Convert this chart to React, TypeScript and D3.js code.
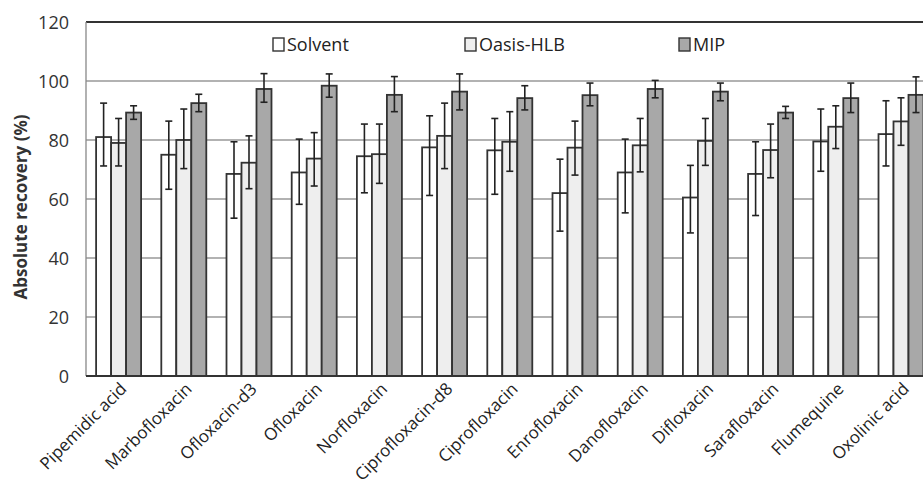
import * as d3 from "d3";

const WIDTH = 923;
const HEIGHT = 495;
const MARGIN = { top: 22, left: 86, bottom: 376 };
const STEP = 65.2;

const compounds = [
  "Pipemidic acid", "Marbofloxacin", "Ofloxacin-d3", "Ofloxacin", "Norfloxacin",
  "Ciprofloxacin-d8", "Ciprofloxacin", "Enrofloxacin", "Danofloxacin", "Difloxacin",
  "Sarafloxacin", "Flumequine", "Oxolinic acid",
];
const seriesNames = ["Solvent", "Oasis-HLB", "MIP"];

const solvent = [81, 75, 68.5, 69, 74.5, 77.5, 76.5, 62, 69, 60.5, 68.5, 79.5, 82];
const solventHi = [92.5, 86.4, 79.4, 80.3, 85.4, 88.2, 87.3, 73.5, 80.3, 71.4, 79.4, 90.5, 93.3];
const solventLo = [71.2, 63.3, 53.5, 58.2, 62.1, 61.2, 61.6, 49.1, 55.3, 48.5, 54.4, 69.4, 71.2];

const oasis = [79, 80, 72.3, 73.7, 75.2, 81.4, 79.4, 77.4, 78.2, 79.7, 76.6, 84.5, 86.3];
const oasisHi = [87.3, 90.5, 81.4, 82.5, 85.4, 92.5, 89.6, 86.4, 87.3, 87.3, 85.4, 91.6, 94.3];
const oasisLo = [71.2, 70.3, 63.5, 64.4, 65.3, 70.3, 69.4, 68.1, 69.2, 71.4, 67.2, 77.1, 78.2];

const mip = [89.3, 92.5, 97.3, 98.4, 95.3, 96.4, 94.2, 95.2, 97.3, 96.4, 89.3, 94.2, 95.3];
const mipHi = [91.6, 95.5, 102.5, 102.4, 101.5, 102.4, 98.4, 99.3, 100.2, 99.3, 91.4, 99.3, 101.4];
const mipLo = [87, 89.6, 92.8, 94.5, 89.6, 90.2, 90.2, 91.6, 94.3, 93.3, 87.3, 89.3, 89.3];

const yTicks = [0, 20, 40, 60, 80, 100, 120];
const fills = ["#ffffff", "#eeeeee", "#a8a8a8"];
const FONT = "'Open Sans', sans-serif";

const App = () => {
  const values = [solvent, oasis, mip];
  const his = [solventHi, oasisHi, mipHi];
  const los = [solventLo, oasisLo, mipLo];

  const x = d3
    .scaleBand()
    .domain(compounds)
    .range([MARGIN.left, MARGIN.left + STEP * compounds.length])
    .paddingInner(0.31)
    .paddingOuter(0.155);
  const xs = d3.scaleBand().domain(seriesNames).range([0, x.bandwidth()]);
  const y = d3.scaleLinear().domain([0, 120]).range([MARGIN.bottom, MARGIN.top]);

  const legendX = [273, 465, 679];

  return (
    <div style={{ position: "absolute", left: 0, top: 0 }}>
      <svg width={WIDTH} height={HEIGHT} style={{ display: "block", fontFamily: FONT }}>
        <rect width={WIDTH} height={HEIGHT} fill="#fff" />
        {/* grid */}
        {yTicks.slice(1, -1).map((t) => (
          <line key={t} x1={MARGIN.left} x2={WIDTH} y1={y(t)} y2={y(t)} stroke="#999" strokeWidth={1.3} />
        ))}
        <line x1={MARGIN.left} x2={WIDTH} y1={y(120)} y2={y(120)} stroke="#333" strokeWidth={1.8} />
        <line x1={MARGIN.left} x2={MARGIN.left} y1={y(120)} y2={y(0)} stroke="#888" strokeWidth={1.3} />
        {yTicks.map((t) => (
          <text key={t} x={69} y={y(t) + 6.5} textAnchor="end" fontSize={18} fill="#333">{t}</text>
        ))}
        <text
          transform={`translate(27,${(y(0) + y(120)) / 2 + 8}) rotate(-90)`}
          textAnchor="middle"
          fontSize={17}
          fontWeight="bold"
          fill="#333"
        >
          Absolute recovery (%)
        </text>

        {/* bars */}
        {compounds.map((c, i) => (
          <g key={c} transform={`translate(${x(c)},0)`}>
            {seriesNames.map((s, k) => (
              <rect
                key={s}
                x={xs(s)}
                y={y(values[k][i])}
                width={xs.bandwidth()}
                height={y(0) - y(values[k][i])}
                fill={fills[k]}
                stroke="#333"
                strokeWidth={1.8}
              />
            ))}
            {seriesNames.map((s, k) => {
              const cx = (xs(s) as number) + xs.bandwidth() / 2;
              return (
                <g key={s} stroke="#222" strokeWidth={1.6}>
                  <line x1={cx} x2={cx} y1={y(his[k][i])} y2={y(los[k][i])} />
                  <line x1={cx - 3.5} x2={cx + 3.5} y1={y(his[k][i])} y2={y(his[k][i])} />
                  <line x1={cx - 3.5} x2={cx + 3.5} y1={y(los[k][i])} y2={y(los[k][i])} />
                </g>
              );
            })}
          </g>
        ))}
        <line x1={MARGIN.left} x2={WIDTH} y1={y(0)} y2={y(0)} stroke="#333" strokeWidth={1.8} />

        {/* x labels */}
        {compounds.map((c) => {
          const cx = (x(c) as number) + x.bandwidth() / 2 + 9;
          return (
            <text
              key={c}
              transform={`translate(${cx},${y(0) + 14}) rotate(-45)`}
              textAnchor="end"
              fontSize={17}
              fill="#222"
            >
              {c}
            </text>
          );
        })}

        {/* legend */}
        {seriesNames.map((s, k) => (
          <g key={s} transform={`translate(${legendX[k]},38)`}>
            <rect x={0} y={0} width={11} height={13} fill={fills[k]} stroke="#333" strokeWidth={1.4} />
            <text x={14} y={13} fontSize={18} fill="#222">{s}</text>
          </g>
        ))}
      </svg>
    </div>
  );
};

export default App;
